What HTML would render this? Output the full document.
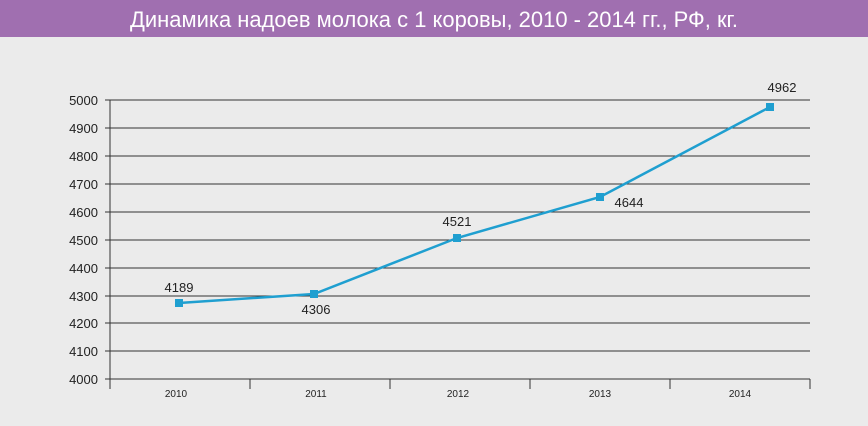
<!DOCTYPE html><html><head><meta charset="utf-8"><style>body{margin:0;width:868px;height:421px;background:#ebebeb;overflow:hidden}</style></head><body>
<svg width="868" height="421" xmlns="http://www.w3.org/2000/svg" font-family="Liberation Sans, sans-serif">
<rect width="868" height="421" fill="#ebebeb"/>
<rect width="868" height="37" fill="#a06fb0"/>
<text x="434" y="27" text-anchor="middle" font-size="22" fill="#fff" textLength="608" lengthAdjust="spacingAndGlyphs">Динамика надоев молока с 1 коровы, 2010 - 2014 гг., РФ,  кг.</text>
<g stroke="#333" stroke-width="1">
<line x1="105" y1="100" x2="810" y2="100"/><line x1="105" y1="128" x2="810" y2="128"/><line x1="105" y1="156" x2="810" y2="156"/><line x1="105" y1="184" x2="810" y2="184"/><line x1="105" y1="212" x2="810" y2="212"/><line x1="105" y1="240" x2="810" y2="240"/><line x1="105" y1="268" x2="810" y2="268"/><line x1="105" y1="296" x2="810" y2="296"/><line x1="105" y1="323" x2="810" y2="323"/><line x1="105" y1="351" x2="810" y2="351"/><line x1="105" y1="379" x2="810" y2="379"/>
<line x1="110" y1="100" x2="110" y2="389"/>
<line x1="250" y1="379" x2="250" y2="389"/><line x1="390" y1="379" x2="390" y2="389"/><line x1="530" y1="379" x2="530" y2="389"/><line x1="670" y1="379" x2="670" y2="389"/><line x1="810" y1="379" x2="810" y2="389"/>
</g>
<g font-size="13" fill="#222" text-anchor="end">
<text x="98" y="105">5000</text><text x="98" y="133">4900</text><text x="98" y="161">4800</text><text x="98" y="189">4700</text><text x="98" y="217">4600</text><text x="98" y="245">4500</text><text x="98" y="273">4400</text><text x="98" y="301">4300</text><text x="98" y="328">4200</text><text x="98" y="356">4100</text><text x="98" y="384">4000</text>
</g>
<g font-size="10" fill="#222" text-anchor="middle">
<text x="176" y="397">2010</text><text x="316" y="397">2011</text><text x="458" y="397">2012</text><text x="600" y="397">2013</text><text x="740" y="397">2014</text>
</g>
<polyline points="179,303 314,294 457,238 600,197 770,107" fill="none" stroke="#1f9fd0" stroke-width="2.5"/>
<g fill="#1f9fd0"><rect x="175" y="299" width="8" height="8"/><rect x="310" y="290" width="8" height="8"/><rect x="453" y="234" width="8" height="8"/><rect x="596" y="193" width="8" height="8"/><rect x="766" y="103" width="8" height="8"/></g>
<g font-size="13" fill="#222" text-anchor="middle">
<text x="179" y="292">4189</text><text x="316" y="314">4306</text><text x="457" y="226">4521</text><text x="629" y="207">4644</text><text x="782" y="92">4962</text>
</g>
</svg></body></html>
